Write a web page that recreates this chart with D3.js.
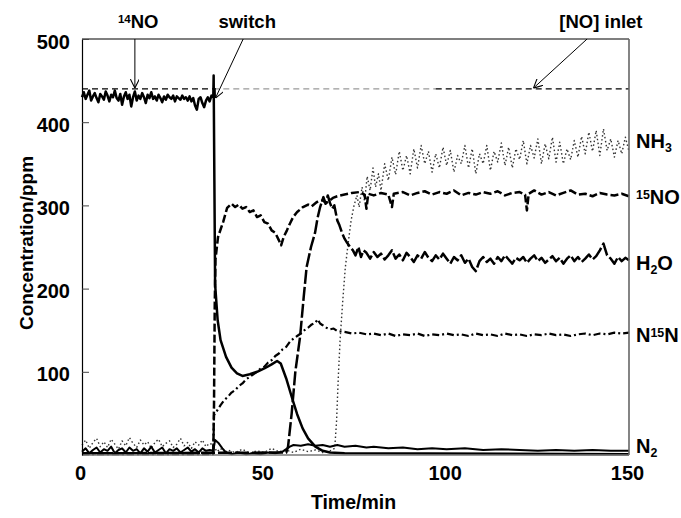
<!DOCTYPE html>
<html>
<head>
<meta charset="utf-8">
<script src="https://cdn.jsdelivr.net/npm/d3@7"></script>
<style>
  html, body { margin: 0; padding: 0; background: #fff; }
  svg { display: block; font-family: "Liberation Sans", Arial, sans-serif; }
</style>
</head>
<body>
<div id="chart"></div>
<script>
// Concentration traces (ppm) vs time (min).

var xTicks = [0, 50, 100, 150];
var yTicks = [100, 200, 300, 400, 500];
var inletLevel = 440;
var inletSegments = [[0, 36, "#000"], [36, 97, "#999"], [97, 150, "#000"]];

// 14NO before the switch, sampled every 0.5 min from t = 0
var no14Pre = [430,436,428,433,438,426,431,435,429,424,434,431,427,437,432,425,433,430,438,429,
  426,434,421,431,436,428,433,419,430,437,426,432,428,435,430,423,433,429,436,428,
  431,426,433,429,424,431,427,433,430,428,432,425,431,429,427,432,428,430,426,431,
  425,429,420,415,428,430,423,418,426,430,425,432];
var no14Post = [[36,430],[36.1,456],[36.3,330],[36.5,205],[37.2,162],[38,138],[39.5,118],[41,105],
  [42.5,98],[44,95],[46,97],[48,100],[50,104],[52,109],[53.5,113],[54.5,110],[56,92],[57.5,70],
  [59,49],[60.5,32],[62,20],[64,10],[66,5],[68,3],[72,2],[150,1]];

// NH3 before the switch, every 1 min from t = 0
var nh3Pre = [12,18,8,15,20,10,16,9,19,13,7,17,11,21,14,9,18,12,16,8,15,19,10,14,17,9,13,20,11,15,8,16,12,18,10,14];
var nh3Post = [[36,12],[37,4],[38,8],[39,2],[40,6],[42,3],[44,7],[46,2],[48,5],[50,3],[52,8],[54,4],
  [56,6],[58,3],[60,7],[62,4],[64,6],[66,3],[68,5],[69.3,8],[69.8,40],[70.3,95],[70.8,140],[71.5,185],
  [72.2,225],[73,255],[73.8,282],[74.6,300],[75.4,312],[76,298],[76.8,322],[77.5,305],[78.2,335],
  [79,318],[79.8,345],[80.5,322],[81.3,338],[82,318],[83,350],[84,330],[85,358],[86,337],[87,365],
  [88,342],[89,360],[90,338],[91,368],[92,345],[93,372],[94,350],[95,365],[96,340],[97,362],[98,345],
  [99,370],[100,348],[101,366],[102,340],[103,360],[104,350],[105,372],[106,345],[107,368],[108,338],
  [109,362],[110,350],[111,372],[112,342],[113,365],[114,352],[115,375],[116,348],[117,370],[118,345],
  [119,368],[120,355],[121,378],[122,350],[123,372],[124,357],[125,380],[126,350],[127,374],[128,356],
  [129,382],[130,352],[131,376],[132,350],[133,368],[134,355],[135,378],[136,358],[137,383],[138,362],
  [139,388],[140,365],[141,390],[142,360],[143,392],[144,366],[145,380],[146,358],[147,378],[148,362],
  [149,382],[150,365]];

var no15 = [[0,2],[36,2],[36.2,60],[36.4,180],[36.6,235],[37.3,262],[38.7,280],[39.8,297],[41,302],
  [42,298],[43,301],[44,296],[45,298],[46,292],[47,294],[48,286],[49,288],[50,280],[51,278],[52,270],
  [53,267],[54,258],[54.6,252],[55.3,262],[56.2,270],[57,278],[57.9,286],[59,292],[60.6,298],[62,301],
  [63,299],[64.4,304],[66,306],[67,303],[68.8,309],[70,311],[72,313],[74,315],[76,316],[77.5,313],
  [78,296],[78.5,314],[80,312],[82,315],[84,313],[85,298],[85.5,314],[88,316],[90,312],[92,315],
  [94,317],[96,313],[98,316],[100,314],[102,318],[104,312],[106,315],[108,313],[110,316],[112,314],
  [114,317],[116,312],[118,315],[120,316],[121.5,313],[122,294],[122.5,314],[124,318],[126,313],
  [128,316],[130,312],[132,315],[134,318],[136,313],[138,314],[140,311],[142,315],[144,313],[146,312],
  [148,314],[150,311]];

var h2o = [[0,2],[56,3],[56.5,10],[57.5,50],[58.5,100],[59.8,142],[60.8,190],[61.6,226],[62.8,250],
  [63.9,267],[64.6,285],[65.3,298],[66.2,310],[66.8,302],[67.4,312],[68,303],[68.6,296],[69.2,300],
  [70,282],[70.6,276],[71.3,267],[72,260],[72.7,255],[73.5,250],[74.3,246],[75,240],[75.8,250],
  [76.5,238],[77.2,246],[78,243],[79,236],[80,244],[81,238],[82,242],[83,235],[84,240],[85,246],
  [86,236],[87,241],[88,234],[89,243],[90,238],[91,232],[92,240],[93,236],[94,244],[95,237],[96,233],
  [97,240],[98,235],[99,242],[100,236],[101,230],[102,238],[103,234],[104,240],[105,231],[106,236],
  [107,226],[108,221],[109,233],[110,238],[111,232],[112,236],[113,230],[114,238],[115,233],[116,240],
  [117,235],[118,230],[119,237],[120,234],[121,238],[122,231],[123,236],[124,240],[125,233],[126,237],
  [127,231],[128,235],[129,239],[130,233],[131,237],[132,230],[133,236],[134,240],[135,233],[136,238],
  [137,232],[138,236],[139,241],[140,235],[141,239],[142,246],[143,254],[144,240],[145,236],[146,230],
  [147,238],[148,233],[149,237],[150,234]];

var n15n = [[0,1],[36,1],[36.2,48],[37,53],[38,60],[39,66],[40,70],[41,75],[42,78],[43,83],[44,86],
  [45,91],[46,94],[47,97],[48,100],[49,104],[50,106],[51,111],[52,114],[53,119],[54,122],[55,127],
  [56,130],[57,136],[58,140],[59,143],[60,146],[61,150],[62,153],[63,157],[64,159],[64.6,163],
  [65.3,158],[66,156],[67,153],[68,151],[69,152],[70,149],[72,148],[74,146],[76,147],[78,145],
  [80,146],[82,144],[84,146],[86,143],[88,145],[90,144],[92,146],[94,143],[96,145],[98,144],
  [100,146],[102,144],[104,145],[106,143],[108,146],[110,144],[112,145],[114,143],[116,146],
  [118,144],[120,145],[122,143],[124,145],[126,144],[128,146],[130,144],[132,145],[134,143],
  [136,145],[138,146],[140,144],[142,146],[144,145],[146,147],[148,146],[150,147]];

// N2 before the switch, every 1 min from t = 0
var n2Pre = [4,8,2,6,9,3,7,5,10,2,6,8,3,9,5,7,2,8,4,10,3,6,9,2,7,5,8,3,6,9,4,7,3,8,5,6];
var n2Post = [[36,5],[36.5,18],[37.5,14],[38.5,8],[39.5,3],[41,1],[43,3],[45,1],[47,2],[49,1],
  [51,3],[53,2],[55,4],[56,7],[57,10],[58,12],[60,11],[62,13],[64,11],[66,12],[68,10],[70,12],
  [72,10],[75,11],[78,9],[80,10],[84,8],[88,9],[92,7],[96,8],[100,7],[105,8],[110,6],[115,7],
  [120,6],[125,5],[130,6],[135,5],[140,6],[145,5],[150,5]];

// right-hand labels: text parts (0 normal, 1 subscript, -1 superscript) and level
var seriesLabels = [
  { parts: [["NH", 0], ["3", 1]], v: 369 },
  { parts: [["15", -1], ["NO", 0]], v: 302 },
  { parts: [["H", 0], ["2", 1], ["O", 0]], v: 222 },
  { parts: [["N", 0], ["15", -1], ["N", 0]], v: 136 },
  { parts: [["N", 0], ["2", 1]], v: 2 }
];

// annotations: text position (t) and arrow from/to [t, ppm]
var arrows = [
  { parts: [["14", -1], ["NO", 0]], tx: 15.4, from: [14.5, 500], to: [14.5, 441] },
  { parts: [["switch", 0]], tx: 45.3, from: [44.2, 500], to: [36.6, 429] },
  { parts: [["[NO] inlet", 0]], tx: 142.3, from: [138.5, 500], to: [123.8, 441] }
];

function gridSeries(values, start, step) {
  return values.map(function (v, i) { return [start + i * step, v]; });
}

var W = 681, H = 518;
var margin = { top: 39, right: 52, bottom: 63, left: 82 };
var iw = W - margin.left - margin.right;
var ih = H - margin.top - margin.bottom;

var svg = d3.select("#chart").append("svg").attr("width", W).attr("height", H);
var g = svg.append("g").attr("transform", "translate(" + margin.left + "," + margin.top + ")");

var x = d3.scaleLinear().domain([0, 150]).range([0, iw]);
var y = d3.scaleLinear().domain([0, 500]).range([ih, 0]);

var line = d3.line().x(function (d) { return x(d[0]); }).y(function (d) { return y(d[1]); });

var series = [
  { data: gridSeries(nh3Pre, 0, 1).concat(nh3Post), stroke: "#333", width: 1.4, dash: "1.5,2.5" },
  { data: gridSeries(n2Pre, 0, 1).concat(n2Post), stroke: "#000", width: 2, dash: null },
  { data: n15n, stroke: "#000", width: 2.2, dash: "7,3,2,3" },
  { data: h2o, stroke: "#000", width: 2.5, dash: "14,3" },
  { data: no15, stroke: "#000", width: 2.5, dash: "8,3" },
  { data: gridSeries(no14Pre, 0, 0.5).concat(no14Post), stroke: "#000", width: 2.5, dash: null }
];

// [NO] inlet reference line
inletSegments.forEach(function (s) {
  g.append("line")
    .attr("x1", x(s[0])).attr("x2", x(s[1]))
    .attr("y1", y(inletLevel)).attr("y2", y(inletLevel))
    .attr("stroke", s[2]).attr("stroke-width", 1.3).attr("stroke-dasharray", "6,4");
});

series.forEach(function (s) {
  g.append("path").datum(s.data)
    .attr("d", line)
    .attr("fill", "none")
    .attr("stroke", s.stroke)
    .attr("stroke-width", s.width)
    .attr("stroke-linejoin", "round")
    .attr("stroke-dasharray", s.dash);
});

// frame
g.append("line").attr("x1", 0).attr("x2", iw).attr("y1", 0).attr("y2", 0).attr("stroke", "#000").attr("stroke-width", 1.2);
g.append("line").attr("x1", iw).attr("x2", iw).attr("y1", 0).attr("y2", ih).attr("stroke", "#666").attr("stroke-width", 1.6);
g.append("line").attr("x1", 0).attr("x2", iw).attr("y1", ih).attr("y2", ih).attr("stroke", "#777").attr("stroke-width", 1.6);

var yAxis = g.append("g")
  .call(d3.axisLeft(y).tickValues(yTicks).tickSize(-7).tickSizeOuter(0).tickPadding(12));
yAxis.select(".domain").attr("stroke", "#000").attr("stroke-width", 1.2);
yAxis.selectAll(".tick line").attr("stroke", "#444");
yAxis.selectAll("text").attr("font-size", 20).attr("font-weight", "bold").attr("dy", "0.45em")
  .attr("font-family", "Liberation Sans, Arial, sans-serif");

var xAxis = g.append("g").attr("transform", "translate(0," + ih + ")")
  .call(d3.axisBottom(x).tickValues(xTicks).tickSize(0).tickPadding(11));
xAxis.select(".domain").remove();
xAxis.selectAll("text").attr("font-size", 20).attr("font-weight", "bold").attr("dx", "-2")
  .attr("font-family", "Liberation Sans, Arial, sans-serif");

svg.append("text")
  .attr("x", margin.left + iw / 2 - 2).attr("y", 509)
  .attr("text-anchor", "middle").attr("font-size", 19.5).attr("font-weight", "bold")
  .text("Time/min");

svg.append("text")
  .attr("transform", "translate(33," + (margin.top + ih / 2 - 4) + ") rotate(-90)")
  .attr("text-anchor", "middle").attr("font-size", 19).attr("font-weight", "bold")
  .text("Concentration/ppm");

function richText(sel, parts, size) {
  parts.forEach(function (p) {
    var t = sel.append("tspan").text(p[0]);
    if (p[1] === 1) t.attr("font-size", size * 0.62).attr("baseline-shift", "-30%");
    else if (p[1] === -1) t.attr("font-size", size * 0.62).attr("baseline-shift", "45%");
  });
}

// right-hand series labels
seriesLabels.forEach(function (l) {
  var t = g.append("text")
    .attr("x", iw + 7).attr("y", y(l.v))
    .attr("font-size", 20).attr("font-weight", "bold");
  richText(t, l.parts, 20);
});

// annotations with arrows
var defs = svg.append("defs");
defs.append("marker")
  .attr("id", "arrowhead").attr("viewBox", "0 0 10 10")
  .attr("refX", 10).attr("refY", 5)
  .attr("markerWidth", 9).attr("markerHeight", 9)
  .attr("markerUnits", "userSpaceOnUse")
  .attr("orient", "auto")
  .append("path").attr("d", "M0,0 L10,5 L0,10").attr("fill", "none").attr("stroke", "#000").attr("stroke-width", 1.2);

arrows.forEach(function (a) {
  g.append("line")
    .attr("x1", x(a.from[0])).attr("y1", y(a.from[1]))
    .attr("x2", x(a.to[0])).attr("y2", y(a.to[1]))
    .attr("stroke", "#000").attr("stroke-width", 1)
    .attr("marker-end", "url(#arrowhead)");
  var t = g.append("text")
    .attr("x", x(a.tx)).attr("y", -11)
    .attr("text-anchor", "middle").attr("font-size", 18.5).attr("font-weight", "bold");
  richText(t, a.parts, 18.5);
});
</script>
</body>
</html>
